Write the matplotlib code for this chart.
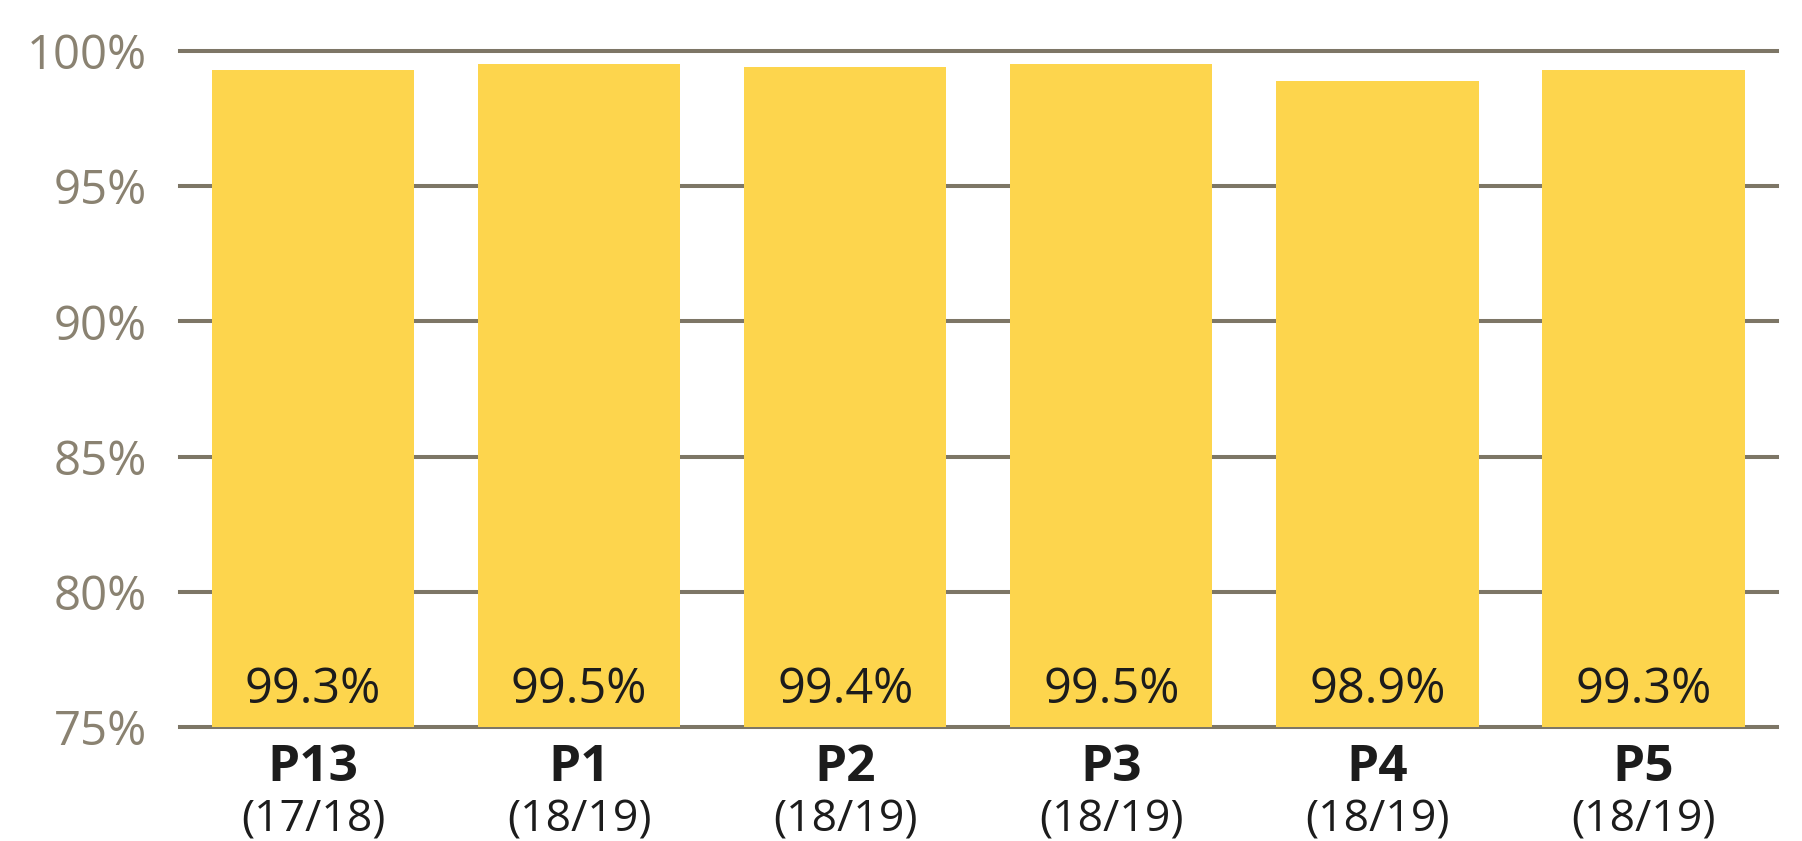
import matplotlib.pyplot as plt
import matplotlib.transforms as mtransforms

# rates per period
periods = ['P13', 'P1', 'P2', 'P3', 'P4', 'P5']
years = ['(17/18)', '(18/19)', '(18/19)', '(18/19)', '(18/19)', '(18/19)']
rates = [99.3, 99.5, 99.4, 99.5, 98.9, 99.3]
y_ticks = [75, 80, 85, 90, 95, 100]

plt.rcParams['font.family'] = ['Open Sans', 'DejaVu Sans']

bar_color = '#fdd54d'
grid_color = '#7d7666'
tick_color = '#8a8271'
text_color = '#1c1c1c'

fig = plt.figure(figsize=(18.02, 8.41), dpi=100)
ax = fig.add_axes([0.0999, 0.1356, 0.886, 0.8038])

# horizontal grid behind the bars
for t in y_ticks:
    ax.axhline(t, color=grid_color, linewidth=2.9, zorder=1, clip_on=False)

x = range(len(periods))
ax.bar(x, rates, width=0.76, bottom=0, color=bar_color, zorder=2)

ax.set_xlim(-0.5, len(periods) - 0.5)
ax.set_ylim(75, 100)
ax.set_yticks(y_ticks)
ax.set_yticklabels([f'{t}%' for t in y_ticks])
ax.tick_params(axis='y', length=0, pad=24, labelsize=34, labelcolor=tick_color)
ax.set_xticks([])
for s in ax.spines.values():
    s.set_visible(False)

# value labels near the base of each bar
for i, r in enumerate(rates):
    ax.text(i, 76.35, f'{r}%', ha='center', va='center', fontsize=35,
            color=text_color, zorder=3)

# two-line category labels under the axis
trans = mtransforms.blended_transform_factory(ax.transData, ax.transAxes)
for i, (p, yr) in enumerate(zip(periods, years)):
    ax.text(i, -0.06, p, transform=trans, ha='center', va='center',
            fontsize=37, fontweight='bold', color=text_color)
    ax.text(i, -0.138, yr, transform=trans, ha='center', va='center',
            fontsize=32, color=text_color)

fig.savefig('out.png', dpi=100)
